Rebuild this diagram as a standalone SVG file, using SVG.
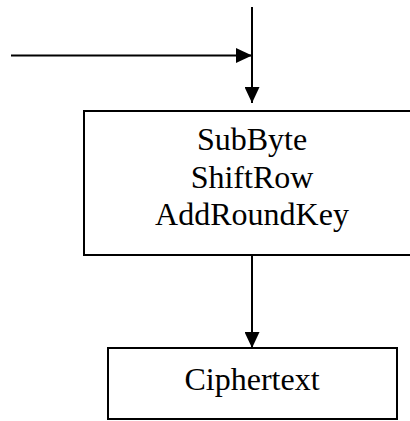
<svg xmlns="http://www.w3.org/2000/svg" width="410" height="421" viewBox="0 0 410 421">
  <style>
    .box { fill: #ffffff; stroke: #000000; stroke-width: 2; }
    .wire { fill: none; stroke: #000000; stroke-width: 2; }
    .label { font-family: "Liberation Serif", "Times New Roman", serif; font-size: 32px; fill: #000000; text-anchor: middle; }
  </style>
  <defs>
    <marker id="arrow" viewBox="0 0 16 15" refX="16" refY="7.5" markerWidth="16" markerHeight="15" markerUnits="userSpaceOnUse" orient="auto">
      <path d="M0,0 L16,7.5 L0,15 Z" fill="#000000"/>
    </marker>
  </defs>
  <rect width="410" height="421" fill="#ffffff"/>

  <g id="round">
    <rect class="box" x="84" y="111" width="340" height="144"/>
    <text class="label" x="252" y="150">SubByte</text>
    <text class="label" x="252" y="187.5">ShiftRow</text>
    <text class="label" x="252" y="225">AddRoundKey</text>
  </g>

  <g id="ciphertext">
    <rect class="box" x="108" y="348" width="289" height="71"/>
    <text class="label" x="252" y="389.5">Ciphertext</text>
  </g>

  <g id="connectors">
    <line class="wire" x1="11" y1="55.5" x2="252" y2="55.5" marker-end="url(#arrow)"/>
    <line class="wire" x1="252" y1="7" x2="252" y2="103" marker-end="url(#arrow)"/>
    <line class="wire" x1="252" y1="255" x2="252" y2="348" marker-end="url(#arrow)"/>
  </g>
</svg>
